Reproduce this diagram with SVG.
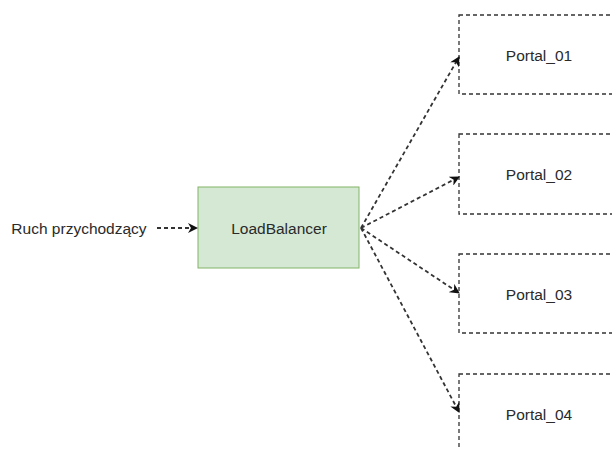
<svg xmlns="http://www.w3.org/2000/svg" width="612" height="450" viewBox="0 0 612 450">
<style>
.lbl{font-family:"Liberation Sans",Arial,sans-serif;font-size:15.5px;fill:#2a2a2a;text-anchor:middle;dominant-baseline:central}
.portal{fill:#fff;stroke:#333;stroke-width:1.3;stroke-dasharray:4 3}
.conn{fill:none;stroke:#333;stroke-width:1.8;stroke-dasharray:4 3}
</style>
<defs>
<marker id="ah" viewBox="0 0 10 10" refX="9" refY="5" markerWidth="10" markerHeight="10" markerUnits="userSpaceOnUse" orient="auto">
<path d="M0,0 L10,5 L0,10 L3,5 Z" fill="#111"/>
</marker>
</defs>
<rect width="612" height="450" fill="#fff"/>
<g id="source"><text class="lbl" x="79" y="228">Ruch przychodzący</text></g>
<g id="loadbalancer">
<rect x="198" y="187" width="161" height="81" fill="#d5e8d4" stroke="#82b366" stroke-width="1"/>
<text class="lbl" x="279" y="228">LoadBalancer</text>
</g>
<g id="portal01"><rect class="portal" x="459" y="15" width="160" height="79"/><text class="lbl" x="539" y="55">Portal_01</text></g>
<g id="portal02"><rect class="portal" x="459" y="134" width="160" height="80"/><text class="lbl" x="539" y="174">Portal_02</text></g>
<g id="portal03"><rect class="portal" x="459" y="254" width="160" height="79"/><text class="lbl" x="539" y="294">Portal_03</text></g>
<g id="portal04"><rect class="portal" x="459" y="374" width="160" height="90"/><text class="lbl" x="539" y="414">Portal_04</text></g>
<g id="connectors">
<line class="conn" x1="157" y1="228" x2="197" y2="228" marker-end="url(#ah)"/>
<line class="conn" x1="361" y1="228" x2="459" y2="57" marker-end="url(#ah)"/>
<line class="conn" x1="361" y1="228" x2="459" y2="177" marker-end="url(#ah)"/>
<line class="conn" x1="361" y1="228" x2="459" y2="293" marker-end="url(#ah)"/>
<line class="conn" x1="361" y1="228" x2="459" y2="412" marker-end="url(#ah)"/>
</g>
</svg>
